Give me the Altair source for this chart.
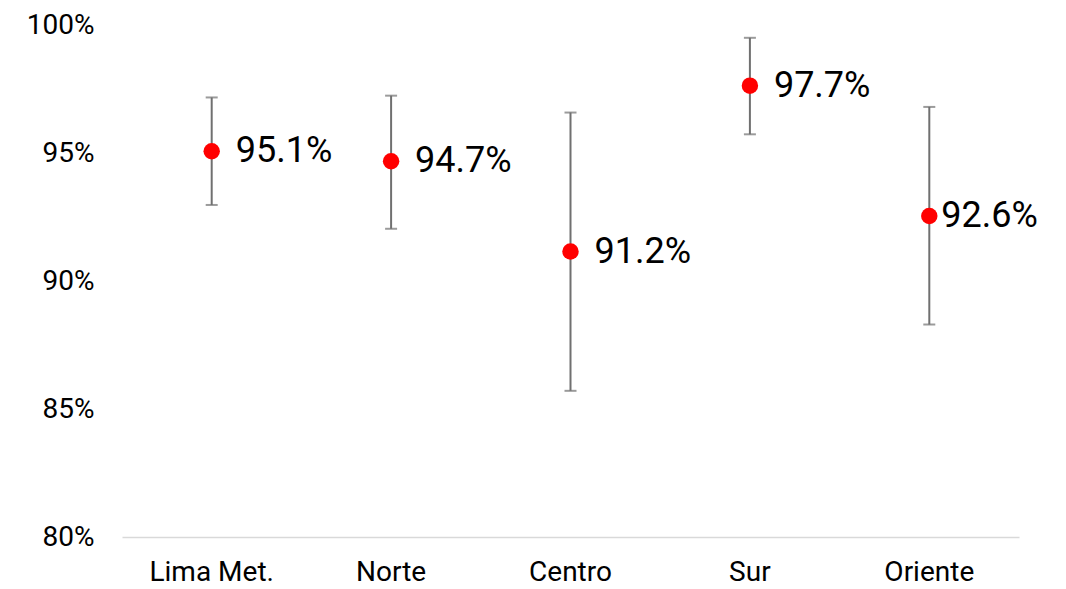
import altair as alt
import pandas as pd

regions = ["Lima Met.", "Norte", "Centro", "Sur", "Oriente"]
values = [0.9507, 0.9468, 0.9115, 0.9763, 0.9254]
lower = [0.9297, 0.9204, 0.8571, 0.9573, 0.8830]
upper = [0.9717, 0.9724, 0.9658, 0.9950, 0.9680]
labels = ["95.1%", "94.7%", "91.2%", "97.7%", "92.6%"]

df = pd.DataFrame({"region": regions, "value": values, "lo": lower, "hi": upper, "label": labels})

FONT = "Roboto"
x = alt.X("region:N", sort=regions, title=None,
          scale=alt.Scale(paddingInner=0, paddingOuter=0),
          axis=alt.Axis(labelAngle=0, labelFontSize=28, labelFont=FONT, labelColor="#000000",
                        ticks=False, domainColor="#d9d9d9", domainWidth=1.5, labelPadding=21))
yscale = alt.Scale(domain=[0.80, 1.00], nice=False, zero=False)
y = alt.Y("value:Q", scale=yscale, title=None,
          axis=alt.Axis(format=".0%", values=[0.8, 0.85, 0.9, 0.95, 1.0], grid=False, domain=False,
                        ticks=False, labelFontSize=28, labelFont=FONT, labelColor="#000000",
                        labelPadding=28, minExtent=109, maxExtent=109))

base = alt.Chart(df)

err = base.mark_errorbar(ticks=alt.MarkConfig(size=12, color="#707070", strokeWidth=2),
                         color="#707070", thickness=2).encode(
    x=x, y=alt.Y("lo:Q", scale=yscale, title=None), y2="hi:Q")

pts = base.mark_circle(size=270, color="#ff0000", opacity=1).encode(x=x, y=y)

txt1 = base.transform_filter(alt.datum.region != "Oriente").mark_text(
    align="left", baseline="middle", dx=24, fontSize=36, font=FONT, color="#000000").encode(
    x=x, y=y, text="label:N")
txt2 = base.transform_filter(alt.datum.region == "Oriente").mark_text(
    align="left", baseline="middle", dx=12, fontSize=36, font=FONT, color="#000000").encode(
    x=x, y=y, text="label:N")

chart = alt.layer(err, pts, txt1, txt2).properties(
    width=897, height=512,
    padding={"left": 5, "top": 3, "right": 5, "bottom": 2}
).configure(font=FONT).configure_view(strokeWidth=0, stroke="transparent")

chart.save("out.html", embed_options={"renderer": "svg", "actions": False})
